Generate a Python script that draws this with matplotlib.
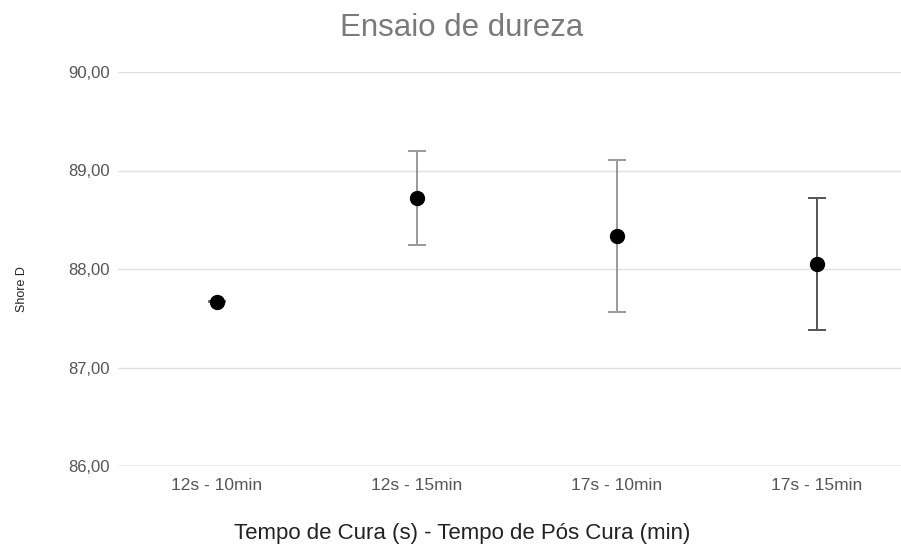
import matplotlib
matplotlib.use("Agg")
import matplotlib.pyplot as plt
import numpy as np

categories = ["12s - 10min", "12s - 15min", "17s - 10min", "17s - 15min"]
means = [87.67, 88.72, 88.335, 88.05]
errors = [0.01, 0.48, 0.77, 0.67]
err_colors = ["#777777", "#999999", "#999999", "#555555"]
yticks = [86, 87, 88, 89, 90]
ytick_labels = ["86,00", "87,00", "88,00", "89,00", "90,00"]

plt.rcParams['font.family'] = ['Liberation Sans', 'DejaVu Sans']

fig = plt.figure(figsize=(9.01, 5.5), dpi=100)
W, H = 901, 550
left, right, top, bottom = 118, 901, 72, 466
ax = fig.add_axes([left / W, (H - bottom) / H, (right - left) / W, (bottom - top) / H])

x = np.arange(len(categories))
for xi, m, e, c in zip(x, means, errors, err_colors):
    ax.errorbar(xi, m, yerr=e, fmt='none', ecolor=c, elinewidth=1.4,
                capsize=6.5, capthick=1.4, zorder=2)
ax.plot(x, means, 'o', color='black', markersize=10, linestyle='none', zorder=3)

ax.set_ylim(86, 90)
ax.set_xlim(-0.495, 3.42)
ax.set_yticks(yticks)
ax.set_yticklabels(ytick_labels, color='#555555', fontsize=12)
ax.set_xticks(x)
ax.set_xticklabels(categories, color='#555555', fontsize=12.5)
ax.tick_params(axis='both', length=0)
ax.tick_params(axis='y', pad=6)
ax.tick_params(axis='x', pad=9)

for s in ax.spines.values():
    s.set_visible(False)
ax.grid(axis='y', color='#e0e0e0', linewidth=1)
ax.axhline(86, color='#cccccc', linewidth=1, zorder=1)
ax.set_axisbelow(True)

fig.text(462 / W, 1 - 28 / H, "Ensaio de dureza", ha='center', va='center',
         fontsize=22.5, color='#7a7a7a')
fig.text(462 / W, 1 - 533 / H, "Tempo de Cura (s) - Tempo de Pós Cura (min)",
         ha='center', va='center', fontsize=16, color='#222222')
fig.text(22 / W, 1 - 289 / H, "Shore D", ha='center', va='center',
         rotation=90, fontsize=9, color='#222222')

fig.savefig("out.png", dpi=100, facecolor='white')
